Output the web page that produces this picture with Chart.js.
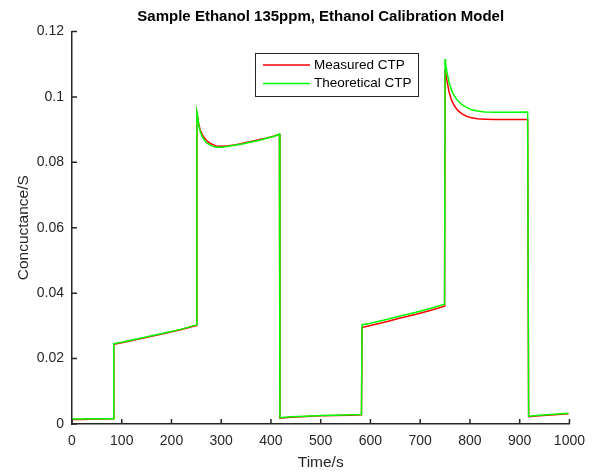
<!DOCTYPE html>
<html>
<head>
<meta charset="utf-8">
<script src="https://cdn.jsdelivr.net/npm/chart.js@4.4.1/dist/chart.umd.min.js"></script>
<style>
  body { margin: 0; background: #fff; }
</style>
</head>
<body>
<canvas id="ctp-chart" width="594" height="475"></canvas>
<script>
const FONT = '"Liberation Sans", Arial, sans-serif'
const AXIS_COLOR = '#262626'

// sample times (s), shared by both series
const times = [
  0, 20, 40, 60, 83, 84, 100, 130, 160, 190, 220, 250,
  251, 252, 255, 258, 262, 267, 273, 280, 290, 300, 315, 330, 345, 360, 375, 390, 405, 417,
  418, 440, 470, 500, 530, 560, 582,
  583, 600, 630, 660, 690, 720, 749,
  750, 751, 754, 758, 763, 769, 776, 784, 793, 803, 815, 830, 850, 870, 890, 916,
  918, 940, 970, 998,
]

// conductance (S)
const measuredCTP = [
  0.0014, 0.0014, 0.0015, 0.0015, 0.0016, 0.0244, 0.0248, 0.0258, 0.0268, 0.0278, 0.0289, 0.0301,
  0.0952, 0.0945, 0.0915, 0.0898, 0.0885, 0.0873, 0.0863, 0.0856, 0.0850, 0.0849, 0.0851, 0.0854, 0.0859, 0.0864, 0.0869, 0.0874, 0.0880, 0.0886,
  0.0018, 0.0021, 0.0023, 0.0025, 0.0026, 0.0027, 0.0028,
  0.0295, 0.0301, 0.0312, 0.0324, 0.0335, 0.0347, 0.0360,
  0.1085, 0.1075, 0.1048, 0.1015, 0.0990, 0.0972, 0.0958, 0.0948, 0.0941, 0.0936, 0.0933, 0.0932, 0.0931, 0.0931, 0.0931, 0.0931,
  0.0022, 0.0025, 0.0028, 0.0031,
]
const theoreticalCTP = [
  0.0015, 0.0015, 0.0016, 0.0016, 0.0016, 0.0246, 0.0250, 0.0260, 0.0270, 0.0280, 0.0290, 0.0303,
  0.0955, 0.0948, 0.0912, 0.0893, 0.0878, 0.0866, 0.0857, 0.0851, 0.0846, 0.0846, 0.0849, 0.0853, 0.0857, 0.0862, 0.0867, 0.0873, 0.0879, 0.0886,
  0.0019, 0.0022, 0.0024, 0.0026, 0.0027, 0.0028, 0.0029,
  0.0303, 0.0308, 0.0319, 0.0330, 0.0341, 0.0353, 0.0366,
  0.1116, 0.1100, 0.1075, 0.1045, 0.1020, 0.1002, 0.0988, 0.0976, 0.0968, 0.0961, 0.0957, 0.0954, 0.0953, 0.0953, 0.0953, 0.0954,
  0.0024, 0.0027, 0.0030, 0.0033,
]

const xTicks = [0, 100, 200, 300, 400, 500, 600, 700, 800, 900, 1000]
const yTicks = [0, 0.02, 0.04, 0.06, 0.08, 0.1, 0.12]

const seriesNames = ['Measured CTP', 'Theoretical CTP']
const seriesColors = ['#ff0000', '#00ff00']

const toPoints = vals => vals.map((v, i) => ({ x: times[i], y: v }))

// matlab-ish bits: title, inward ticks, boxed legend
const matlabPlugin = {
  id: 'matlab',
  afterDraw(chart) {
    const { ctx, chartArea, scales } = chart
    ctx.save()

    ctx.fillStyle = '#000'
    ctx.font = 'bold 15px ' + FONT
    ctx.textAlign = 'center'
    ctx.textBaseline = 'middle'
    ctx.fillText('Sample Ethanol 135ppm, Ethanol Calibration Model',
      (chartArea.left + chartArea.right) / 2, 17)

    ctx.strokeStyle = AXIS_COLOR
    ctx.lineWidth = 1.5
    ctx.beginPath()
    xTicks.forEach(t => {
      const px = scales.x.getPixelForValue(t)
      ctx.moveTo(px, chartArea.bottom)
      ctx.lineTo(px, chartArea.bottom - 5)
    })
    yTicks.forEach(t => {
      const py = scales.y.getPixelForValue(t)
      ctx.moveTo(chartArea.left, py)
      ctx.lineTo(chartArea.left + 5, py)
    })
    ctx.stroke()

    // legend box
    const lx = 255, ly = 53, lw = 163, lh = 43
    ctx.fillStyle = '#fff'
    ctx.fillRect(lx, ly, lw, lh)
    ctx.lineWidth = 1
    ctx.strokeStyle = AXIS_COLOR
    ctx.strokeRect(lx + 0.5, ly + 0.5, lw, lh)
    ctx.font = '13.5px ' + FONT
    ctx.textAlign = 'left'
    ctx.textBaseline = 'middle'
    seriesNames.forEach((name, i) => {
      const yy = ly + 12 + i * 18.5
      ctx.strokeStyle = seriesColors[i]
      ctx.lineWidth = 1.5
      ctx.beginPath()
      ctx.moveTo(lx + 8, yy)
      ctx.lineTo(lx + 55, yy)
      ctx.stroke()
      ctx.fillStyle = '#000'
      ctx.fillText(name, lx + 59, yy)
    })
    ctx.restore()
  },
}

const ctpData = {
  datasets: [
    {
      // green first so it is painted on top
      label: seriesNames[1],
      data: toPoints(theoreticalCTP),
      borderColor: seriesColors[1],
      borderWidth: 1.5,
      pointRadius: 0,
      tension: 0,
    },
    {
      label: seriesNames[0],
      data: toPoints(measuredCTP),
      borderColor: seriesColors[0],
      borderWidth: 1.5,
      pointRadius: 0,
      tension: 0,
    },
  ],
}

const tickFont = { family: FONT, size: 14 }
const titleFont = { family: FONT, size: 15.5 }

const ctpChart = new Chart(document.getElementById('ctp-chart'), {
  type: 'line',
  data: ctpData,
  plugins: [matlabPlugin],
  options: {
    responsive: false,
    animation: false,
    layout: { padding: { top: 31.5, right: 24, left: 0, bottom: 0 } },
    plugins: {
      legend: { display: false },
      tooltip: { enabled: false },
      title: { display: false },
    },
    scales: {
      x: {
        type: 'linear',
        min: 0,
        max: 1000,
        afterBuildTicks: s => { s.ticks = xTicks.map(v => ({ value: v })) },
        afterFit: s => { s.height = 51 },
        grid: { display: false, drawTicks: false },
        border: { display: true, color: AXIS_COLOR, width: 1.5 },
        ticks: {
          color: AXIS_COLOR,
          font: tickFont,
          padding: 9,
          maxRotation: 0,
          callback: v => String(v),
        },
        title: {
          display: true,
          text: 'Time/s',
          color: AXIS_COLOR,
          font: titleFont,
          padding: { top: 0, bottom: 3 },
        },
      },
      y: {
        min: 0,
        max: 0.12,
        afterBuildTicks: s => { s.ticks = yTicks.map(v => ({ value: v })) },
        afterFit: s => { s.width = 72 },
        grid: { display: false, drawTicks: false },
        border: { display: true, color: AXIS_COLOR, width: 1.5 },
        ticks: {
          color: AXIS_COLOR,
          font: tickFont,
          padding: 8,
          callback: v => +v.toFixed(2) + '',
        },
        title: {
          display: true,
          text: 'Concuctance/S',
          color: AXIS_COLOR,
          font: titleFont,
          padding: { top: 14, bottom: 0 },
        },
      },
    },
  },
})
</script>
</body>
</html>
